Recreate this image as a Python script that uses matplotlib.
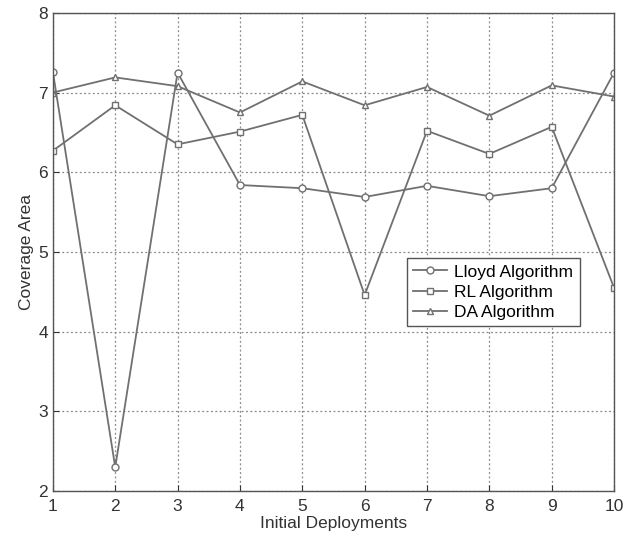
import matplotlib
matplotlib.use("Agg")
import matplotlib.pyplot as plt

deployments = [1, 2, 3, 4, 5, 6, 7, 8, 9, 10]
lloyd = [7.26, 2.30, 7.25, 5.84, 5.80, 5.69, 5.83, 5.70, 5.80, 7.25]
rl = [6.27, 6.84, 6.35, 6.51, 6.72, 4.46, 6.52, 6.23, 6.57, 4.55]
da = [7.00, 7.19, 7.08, 6.75, 7.14, 6.84, 7.07, 6.71, 7.09, 6.95]

plt.rcParams['font.family'] = ['Liberation Sans', 'DejaVu Sans']

fig = plt.figure(figsize=(6.37, 5.35), dpi=100)
ax = fig.add_axes([0.083, 0.082, 0.881, 0.894])

col = '#707070'
ax.plot(deployments, lloyd, '-o', color=col, lw=1.3, ms=5, mfc='white', mec=col, label='Lloyd Algorithm')
ax.plot(deployments, rl, '-s', color=col, lw=1.3, ms=5, mfc='white', mec=col, label='RL Algorithm')
ax.plot(deployments, da, '-^', color=col, lw=1.3, ms=5, mfc='white', mec=col, label='DA Algorithm')

ax.set_xlim(1, 10)
ax.set_ylim(2, 8)
ax.set_xticks(deployments)
ax.set_yticks([2, 3, 4, 5, 6, 7, 8])
ax.grid(True, linestyle=(0, (1.5, 2)), color='#888888', lw=0.9)
for s in ax.spines.values():
    s.set_color('#555555')
    s.set_linewidth(1.0)
ax.tick_params(direction='in', labelsize=12.5, colors='#333333', length=4)
ax.tick_params(axis='x', pad=6)

ax.set_xlabel('Initial Deployments', fontsize=12.5, color='#333333', labelpad=1)
ax.set_ylabel('Coverage Area', fontsize=12.5, color='#333333', labelpad=3)

leg = ax.legend(loc='upper left', bbox_to_anchor=(0.615, 0.505), fontsize=12.5,
                fancybox=False, framealpha=1, edgecolor='#555555',
                handlelength=2.0, borderpad=0.35, labelspacing=0.3, handletextpad=0.4)
leg.get_frame().set_linewidth(1.0)

fig.savefig('out.png', dpi=100)
